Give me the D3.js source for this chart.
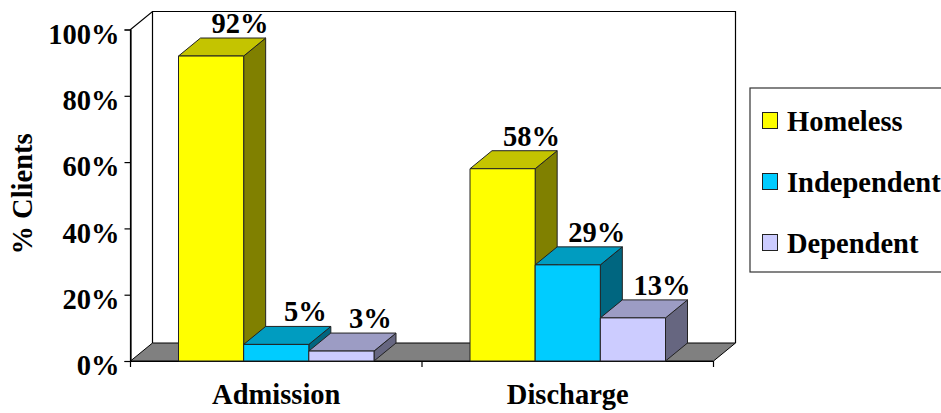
<!DOCTYPE html>
<html>
<head>
<meta charset="utf-8">
<script src="https://cdnjs.cloudflare.com/ajax/libs/d3/7.8.5/d3.min.js"></script>
<style>
html,body{margin:0;padding:0;background:#fff;overflow:hidden}
text{font-family:"Liberation Serif",serif;font-weight:bold;fill:#000}
</style>
</head>
<body>
<script>
const categories = ["Admission", "Discharge"];
const seriesNames = ["Homeless", "Independent", "Dependent"];
const homeless = [92, 58];
const independent = [5, 29];
const dependent = [3, 13];
const yTicks = [0, 20, 40, 60, 80, 100];
const seriesValues = [homeless, independent, dependent];
const front = ["#ffff00", "#00ccff", "#ccccff"];
const topFace = ["#c4c400", "#009cc0", "#9c9cc4"];
const sideFace = ["#808000", "#006680", "#666680"];

const W = 941, H = 413, dx = 22, dy = -18;
const svg = d3.select("body").append("svg").attr("width", W).attr("height", H).style("display", "block");
const y = d3.scaleLinear().domain([0, 100]).range([361, 29.5]);
const x0 = d3.scaleBand().domain(categories).range([130.5, 713.5]);
const x1 = d3.scaleBand().domain(seriesNames).range([48, x0.bandwidth() - 48]);
const poly = pts => pts.map(p => p.join(",")).join(" ");
const fs = 28.5;

// walls
const L = x0.range()[0], R = x0.range()[1], Y0 = y(0), Y1 = y(100);
svg.append("polygon").attr("points", poly([[L, Y0], [L + dx, Y0 + dy], [L + dx, Y1 + dy], [R + dx, Y1 + dy], [R + dx, Y0 + dy], [R, Y0]]))
  .attr("fill", "#fff").attr("stroke", "none");
svg.append("polyline").attr("points", poly([[L, Y0], [L, Y1], [L + dx, Y1 + dy], [R + dx, Y1 + dy], [R + dx, Y0 + dy]]))
  .attr("fill", "none").attr("stroke", "#000").attr("stroke-width", 1.2);
svg.append("line").attr("x1", L + dx).attr("x2", L + dx).attr("y1", Y1 + dy).attr("y2", Y0 + dy).attr("stroke", "#000").attr("stroke-width", 1.2);
// floor
svg.append("polygon").attr("points", poly([[L, Y0], [L + dx, Y0 + dy], [R + dx, Y0 + dy], [R, Y0]]))
  .attr("fill", "#808080").attr("stroke", "#000").attr("stroke-width", 1);

// axes
const yAxis = d3.axisLeft(y).tickValues(yTicks).tickSize(6).tickFormat(d => d + "%");
const gy = svg.append("g").attr("transform", `translate(${L},0)`).call(yAxis);
gy.selectAll("text").attr("font-size", fs).attr("x", -11).attr("dy", "0.48em");
gy.selectAll("line,path").attr("stroke", "#000").attr("stroke-width", 1.2);
const xAxis = d3.axisBottom(x0).tickSize(0).tickPadding(23);
const gx = svg.append("g").attr("transform", `translate(0,${Y0})`).call(xAxis);
gx.selectAll("text").attr("font-size", fs).attr("dy", "0.71em");
gx.select(".domain").attr("stroke", "#000").attr("stroke-width", 1.2);
// category tick marks at band edges
gx.selectAll(".edge").data([L, (L + R) / 2, R]).enter().append("line").attr("class", "edge")
  .attr("x1", d => d).attr("x2", d => d).attr("y1", 0).attr("y2", 6).attr("stroke", "#000").attr("stroke-width", 1.2);

// bars
categories.forEach((c, ci) => {
  seriesNames.forEach((s, si) => {
    const v = seriesValues[si][ci];
    const a = x0(c) + x1(s), b = a + x1.bandwidth(), t = y(v);
    const g = svg.append("g").attr("stroke", "#222").attr("stroke-width", 1).attr("stroke-linejoin", "round");
    g.append("polygon").attr("points", poly([[b, Y0], [b + dx, Y0 + dy], [b + dx, t + dy], [b, t]])).attr("fill", sideFace[si]);
    g.append("polygon").attr("points", poly([[a, t], [a + dx, t + dy], [b + dx, t + dy], [b, t]])).attr("fill", topFace[si]);
    g.append("rect").attr("x", a).attr("y", t).attr("width", b - a).attr("height", Y0 - t).attr("fill", front[si]);
  });
});
// value labels drawn last
categories.forEach((c, ci) => {
  seriesNames.forEach((s, si) => {
    const v = seriesValues[si][ci];
    const a = x0(c) + x1(s), b = a + x1.bandwidth(), t = y(v);
    svg.append("text").attr("x", (a + b) / 2 + dx + 7).attr("y", t + dy - 5)
      .attr("text-anchor", "middle").attr("font-size", fs).text(v + "%");
  });
});

// y title
svg.append("text").attr("transform", "translate(32,194) rotate(-90)").attr("text-anchor", "middle").attr("font-size", fs).text("% Clients");

// legend
svg.append("rect").attr("x", 750).attr("y", 88).attr("width", 220).attr("height", 184)
  .attr("fill", "#fff").attr("stroke", "#333").attr("stroke-width", 1.2);
const ly = d3.scalePoint().domain(seriesNames).range([120.5, 242.5]);
seriesNames.forEach((s, i) => {
  svg.append("rect").attr("x", 762.5).attr("y", ly(s) - 8).attr("width", 15).attr("height", 16)
    .attr("fill", front[i]).attr("stroke", "#222").attr("stroke-width", 1);
  svg.append("text").attr("x", 787).attr("y", ly(s) + 10).attr("font-size", fs).text(s);
});
</script>
</body>
</html>
